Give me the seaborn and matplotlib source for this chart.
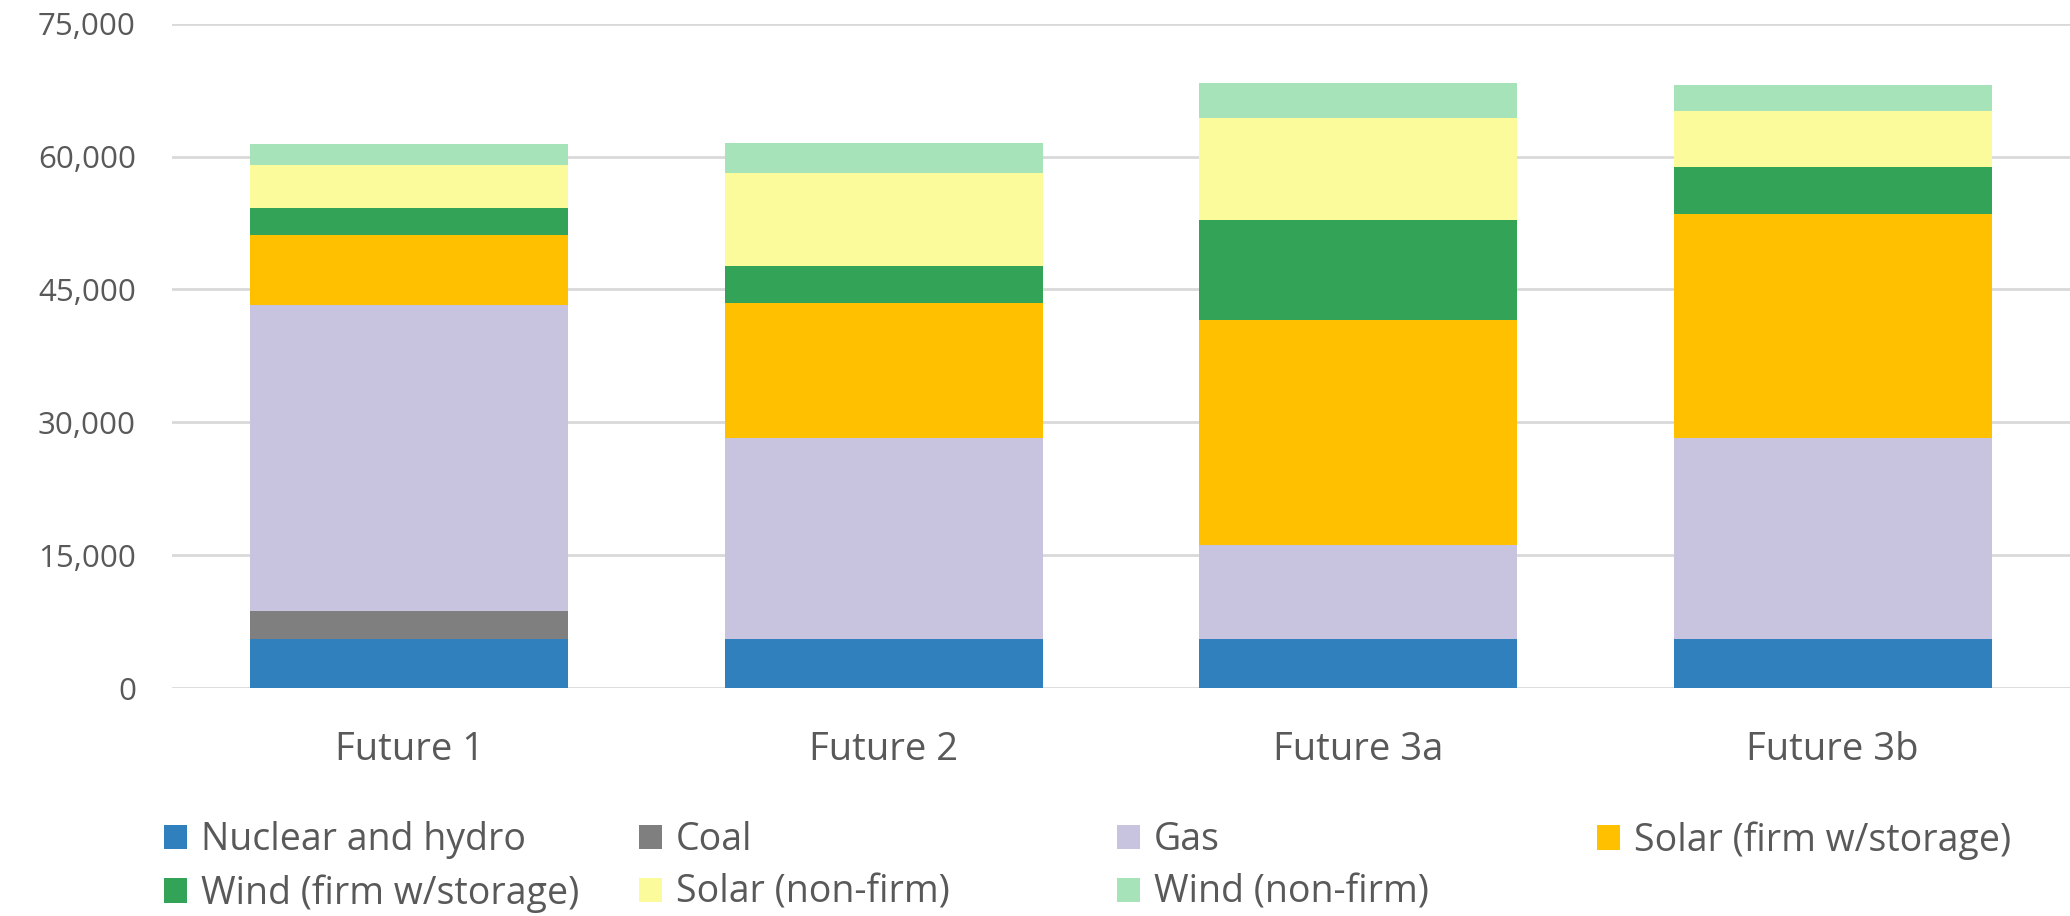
import matplotlib
matplotlib.use("Agg")
import matplotlib.pyplot as plt
from matplotlib.patches import Patch
from matplotlib.ticker import FuncFormatter
import numpy as np
import seaborn as sns

# Capacity by resource type for each future scenario
categories = ["Future 1", "Future 2", "Future 3a", "Future 3b"]
nuclear_hydro = [5500, 5500, 5500, 5500]
coal = [3150, 0, 0, 0]
gas = [34550, 22750, 10700, 22750]
solar_firm = [8000, 15200, 25300, 25250]
wind_firm = [3000, 4150, 11400, 5300]
solar_nonfirm = [4800, 10500, 11500, 6300]
wind_nonfirm = [2450, 3400, 3900, 3000]

series_names = ["Nuclear and hydro", "Coal", "Gas", "Solar (firm w/storage)",
                "Wind (firm w/storage)", "Solar (non-firm)", "Wind (non-firm)"]
series_values = [nuclear_hydro, coal, gas, solar_firm,
                 wind_firm, solar_nonfirm, wind_nonfirm]
colors = ["#3080bd", "#7f7f7f", "#c8c3df", "#ffc000",
          "#33a457", "#fbfb9b", "#a6e3b8"]

y_ticks = [0, 15000, 30000, 45000, 60000, 75000]

sns.set_theme(style="white")
plt.rcParams["font.family"] = ["Open Sans", "DejaVu Sans"]
text_color = "#595959"

fig = plt.figure(figsize=(20.7, 9.16), dpi=100)
ax = fig.add_axes([172 / 2070, 1 - 688 / 916, 1 - 172 / 2070, (688 - 23.8) / 916])

bottom = np.zeros(len(categories))
for name, vals, col in zip(series_names, series_values, colors):
    sns.barplot(x=categories, y=vals, bottom=bottom, color=col, width=0.67,
                linewidth=0, saturation=1, ax=ax, zorder=3)
    bottom = bottom + np.array(vals)

ax.set_xlim(-0.5, 3.5)
ax.set_ylim(0, 75000)
ax.set_yticks(y_ticks)
ax.yaxis.set_major_formatter(FuncFormatter(lambda v, p: f"{int(v):,}"))
ax.grid(axis="y", color="#d9d9d9", linewidth=2, zorder=0)
ax.grid(axis="x", visible=False)
for s in ax.spines.values():
    s.set_visible(False)
ax.tick_params(axis="y", length=0, pad=26, labelsize=22.5, labelcolor=text_color)
ax.tick_params(axis="x", length=0, pad=31, labelsize=27.5, labelcolor=text_color)
ax.set_xlabel("")
ax.set_ylabel("")

# Legend laid out as four evenly spaced columns
handles = [Patch(facecolor=c, edgecolor="none") for c in colors]
columns = [[0, 4], [1, 5], [2, 6], [3]]
col_x = [164, 639, 1117, 1597]
for idx, x in zip(columns, col_x):
    fig.legend([handles[i] for i in idx], [series_names[i] for i in idx],
               loc="upper left", bbox_to_anchor=(x / 2070, 1 - 821 / 916),
               frameon=False, fontsize=27, labelcolor=text_color,
               handlelength=0.62, handleheight=0.62, handletextpad=0.37,
               labelspacing=0.4, borderpad=0, borderaxespad=0)

fig.savefig("out.png", dpi=100)
